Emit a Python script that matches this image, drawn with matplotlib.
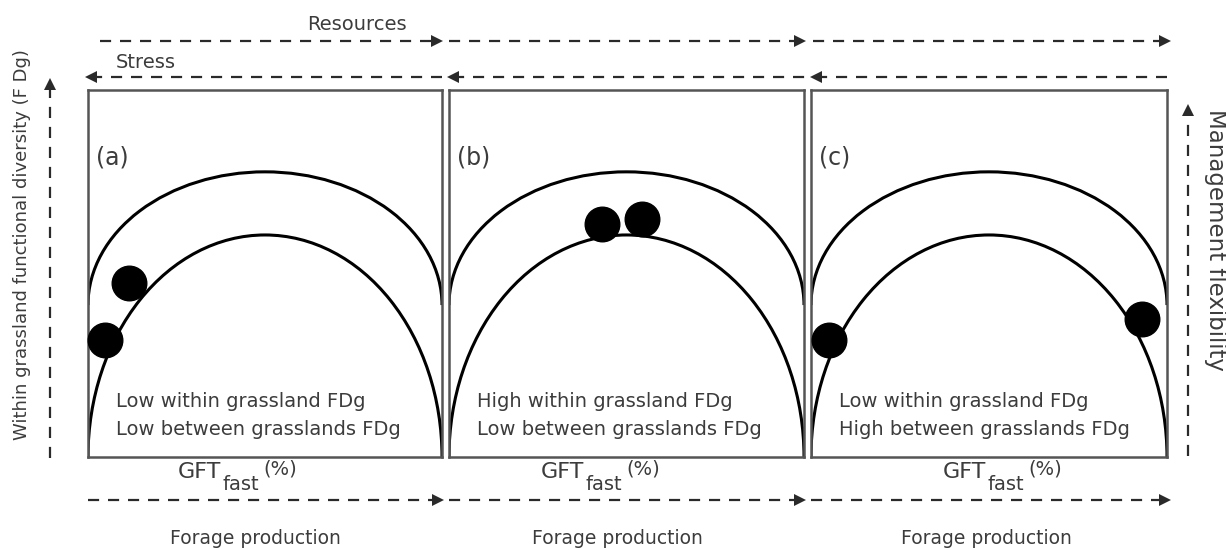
import matplotlib
matplotlib.use("Agg")
import matplotlib.pyplot as plt
from matplotlib.patches import Arc

# ---------------- data ----------------
panel_labels = ["(a)", "(b)", "(c)"]
panel_text_within = ["Low within grassland FDg", "High within grassland FDg", "Low within grassland FDg"]
panel_text_between = ["Low between grasslands FDg", "Low between grasslands FDg", "High between grasslands FDg"]
# dots: GFT_fast (%) and within-grassland FDg (relative, 0-100)
dots_x = [[11.6, 4.8], [43.1, 54.4], [5.1, 93.0]]
dots_y = [[47.4, 31.9], [63.5, 64.9], [31.9, 37.6]]
# envelope arcs (centre height, half height) in FDg units
outer_arc = (41.4, 36.3)
inner_arc = (0.0, 60.5)
x_label_parts = ["GFT", "fast", "(%)"]
bottom_label = "Forage production"
top_label = "Resources"
stress_label = "Stress"
left_label = "Within grassland functional diversity (F Dg)"
right_label = "Management flexibility"

# ---------------- style ----------------
plt.rcParams["font.family"] = ["DejaVu Sans"]
TXT = "#3c3c3c"
LN = "#2a2a2a"

W, H = 1226, 550
fig = plt.figure(figsize=(W / 100, H / 100), dpi=100)

# overlay axes in pixel coordinates for annotations
ov = fig.add_axes([0, 0, 1, 1])
ov.set_xlim(0, W)
ov.set_ylim(H, 0)
ov.axis("off")

panels_px = [(88, 442), (449, 804), (811, 1167)]
top_px, bot_px = 90, 457

for i, (x0, x1) in enumerate(panels_px):
    ax = fig.add_axes([x0 / W, (H - bot_px) / H, (x1 - x0) / W, (bot_px - top_px) / H])
    ax.set_xlim(0, 100)
    ax.set_ylim(0, 100)
    ax.set_xticks([])
    ax.set_yticks([])
    for s in ax.spines.values():
        s.set_color("#555555")
        s.set_linewidth(1.8)
    for cy, hh in (outer_arc, inner_arc):
        ax.add_patch(Arc((50, cy), 100, 2 * hh, theta1=0, theta2=180,
                         color="black", lw=2.2))
    ax.scatter(dots_x[i], dots_y[i], s=620, color="black", zorder=5, clip_on=False)
    ax.text(2.3, 81.5, panel_labels[i], fontsize=17, color=TXT, va="center", ha="left")
    ax.text(7.8, 15.0, panel_text_within[i], fontsize=14, color=TXT, va="center", ha="left")
    ax.text(7.8, 7.6, panel_text_between[i], fontsize=14, color=TXT, va="center", ha="left")

dash = dict(color=LN, lw=1.6, dashes=(5, 4))

def harrow(xa, xb, y, head_right=True):
    ov.plot([xa, xb], [y, y], **dash)
    hx = xb if head_right else xa
    ov.plot([hx], [y], marker=">" if head_right else "<", color=LN, markersize=9,
            markeredgewidth=0)

def varrow(x, ya, yb):
    ov.plot([x, x], [ya, yb], **dash)
    ov.plot([x], [yb], marker="^", color=LN, markersize=9, markeredgewidth=0)

for xa, xb in [(100, 437), (449, 800), (813, 1165)]:
    harrow(xa, xb, 41, True)
for xa, xb in [(91, 442), (453, 805), (816, 1167)]:
    harrow(xa, xb, 77, False)
for xa, xb in [(88, 438), (449, 800), (811, 1165)]:
    harrow(xa, xb, 500, True)

ov.text(357, 25, top_label, fontsize=14, color=TXT, ha="center", va="center")
ov.text(116, 62, stress_label, fontsize=14, color=TXT, ha="left", va="center")

renderer = fig.canvas.get_renderer()
for sx in [178, 541, 943]:
    t1 = ov.text(sx, 472, x_label_parts[0], fontsize=16, color=TXT, ha="left", va="center")
    e1 = t1.get_window_extent(renderer)
    t2 = ov.text(e1.x1 + 1, 485, x_label_parts[1], fontsize=14, color=TXT, ha="left", va="center")
    e2 = t2.get_window_extent(renderer)
    ov.text(e2.x1 + 4, 469, x_label_parts[2], fontsize=14, color=TXT, ha="left", va="center")

for cx in [255, 617, 986]:
    ov.text(cx, 539, bottom_label, fontsize=13.5, color=TXT, ha="center", va="center")

varrow(50, 458, 84)
ov.text(22, 245, left_label, fontsize=13, color=TXT, ha="center", va="center", rotation=90)
varrow(1188, 456, 110)
ov.text(1216, 240, right_label, fontsize=16.5, color=TXT, ha="center", va="center", rotation=-90)

fig.savefig("out.png", dpi=100)
